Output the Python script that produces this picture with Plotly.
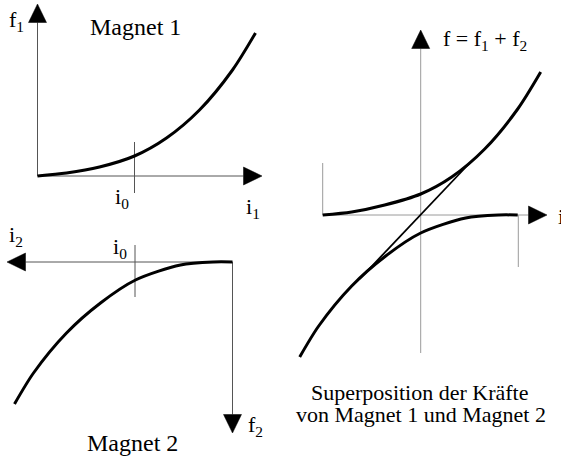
import plotly.graph_objects as go

# ---------------- data ----------------
# (pixel offsets from each diagram's axis crossing; + = direction of the arrow)
# Magnet 1: current i1 (to the right) -> force f1 (upward)
m1_i = [0, 29, 62, 97, 129, 162, 195, 218]
m1_f = [0, 3, 9, 20, 38, 66, 106, 143]
# Magnet 2: current i2 (to the left) -> force f2 (downward)
m2_i = [0, 19, 52, 97, 132, 166, 199, 218]
m2_f = [0, 0, 3, 18, 41, 71, 111, 142]
# Superposition: i (to the right) -> f (upward), origin = working point i0
s1_i = [-98, -69, -36, 0, 31, 64, 97, 120]
s1_f = [0, 3, 10, 21, 38, 66, 106, 143]
s2_i = [97, 78, 45, 0, -35, -69, -102, -121]
s2_f = [0, 0, -3, -18, -41, -71, -111, -142]
sum_i = [-61, 49]
sum_f = [-64, 52]
i0_offset = 97

# ---------------- geometry (layout) ----------------
W, H = 561, 461
P1 = (37.5, 176.0)   # origin of Magnet 1 axes
P2 = (232.5, 262.0)  # origin of Magnet 2 axes
P3 = (420.7, 215.0)  # origin of superposition axes
AL, AH = 18.5, 9.0   # arrowhead length, half width
FONT = "Liberation Serif, Times New Roman, serif"
DARK = "#555555"
LIGHT = "#9a9a9a"

fig = go.Figure()


def line(xs, ys, color="black", width=1.0, shape="linear"):
    fig.add_trace(go.Scatter(x=xs, y=ys, mode="lines",
                             line=dict(color=color, width=width, shape=shape, smoothing=0.8),
                             hoverinfo="skip", showlegend=False))


def arrowhead(tx, ty, d):
    dx, dy = d
    bx, by = tx - dx * AL, ty - dy * AL
    px, py = -dy * AH, dx * AH
    fig.add_trace(go.Scatter(x=[tx, bx + px, bx - px, tx], y=[ty, by + py, by - py, ty],
                             mode="lines", fill="toself", fillcolor="black",
                             line=dict(color="black", width=0.5),
                             hoverinfo="skip", showlegend=False))


# ---- Magnet 1 (up/right) ----
ox, oy = P1
line([ox, ox], [oy, 4 + AL], DARK)
arrowhead(ox, 4, (0, -1))
line([ox, 262 - AL], [oy, oy], DARK)
arrowhead(262, oy, (1, 0))
line([ox + i0_offset] * 2, [oy + 17, oy - 34], DARK)
line([ox + v for v in m1_i], [oy - v for v in m1_f], "black", 3, "spline")

# ---- Magnet 2 (left/down) ----
ox, oy = P2
line([ox, 7 + AL], [oy, oy], DARK)
arrowhead(7, oy, (-1, 0))
line([ox, ox], [oy, 433 - AL], DARK)
arrowhead(ox, 433, (0, 1))
line([ox - i0_offset - 0.5] * 2, [oy - 17, oy + 35], DARK)
line([ox - v for v in m2_i], [oy + v for v in m2_f], "black", 3, "spline")

# ---- Superposition ----
ox, oy = P3
line([ox, ox], [353, 30 + AL], LIGHT)
arrowhead(ox, 30, (0, -1))
line([ox - 98, 547 - AL], [oy, oy], LIGHT)
arrowhead(547, oy, (1, 0))
line([ox - 98] * 2, [oy, oy - 52], LIGHT)
line([ox + 97.6] * 2, [oy, oy + 52], LIGHT)
line([ox + v for v in s1_i], [oy - v for v in s1_f], "black", 3, "spline")
line([ox + v for v in s2_i], [oy - v for v in s2_f], "black", 3, "spline")
line([ox + v for v in sum_i], [oy - v for v in sum_f], "black", 1.8)

# ---- texts ----
texts = [
    ("f<sub>1</sub>", 16, 21, 22, "center"),
    ("Magnet 1", 135.5, 27, 24, "center"),
    ("i<sub>0</sub>", 121.5, 198, 22, "center"),
    ("i<sub>1</sub>", 252.5, 208, 22, "center"),
    ("i<sub>2</sub>", 15.5, 236, 22, "center"),
    ("i<sub>0</sub>", 119.5, 248, 22, "center"),
    ("f<sub>2</sub>", 255, 426, 22, "center"),
    ("Magnet 2", 132.5, 442.5, 24, "center"),
    ("f = f<sub>1</sub> + f<sub>2</sub>", 485, 40, 22, "center"),
    ("i", 555.5, 216, 22, "left"),
    ("Superposition der Kräfte", 420.3, 392.5, 22, "center"),
    ("von Magnet 1 und Magnet 2", 421, 414.5, 22, "center"),
]
for t, x, y, s, xa in texts:
    fig.add_annotation(x=x, y=y, xref="x", yref="y", text=t, showarrow=False,
                       xanchor=xa, yanchor="middle",
                       font=dict(family=FONT, size=s, color="black"))

fig.update_layout(
    width=W, height=H, margin=dict(l=0, r=0, t=0, b=0),
    paper_bgcolor="white", plot_bgcolor="white", showlegend=False,
    xaxis=dict(range=[0, W], visible=False, fixedrange=True),
    yaxis=dict(range=[H, 0], visible=False, fixedrange=True),
)
fig.write_html("out.html", config={"displayModeBar": False},
               post_script="document.body.style.margin='0';")
